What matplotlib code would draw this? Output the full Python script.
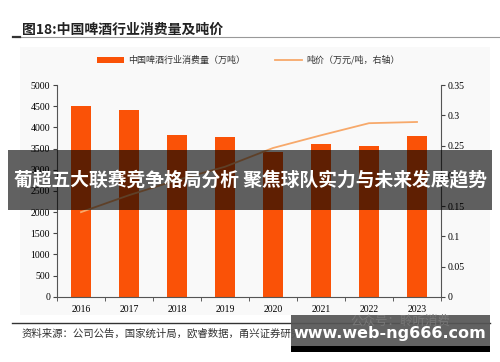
import matplotlib.pyplot as plt
from matplotlib.patches import Rectangle
from matplotlib.lines import Line2D

plt.rcParams['font.family'] = ['Noto Sans CJK SC', 'DejaVu Sans']

years = ['2016', '2017', '2018', '2019', '2020', '2021', '2022', '2023']
consumption = [4512, 4403, 3820, 3766, 3427, 3608, 3569, 3797]
price = [0.140, 0.168, 0.193, 0.215, 0.246, 0.267, 0.287, 0.289]

bar_color = '#FA5207'
line_color = '#F7A96B'
serif = ['Liberation Serif', 'DejaVu Serif']

fig = plt.figure(figsize=(5, 3.62), dpi=100)
fig.patch.set_facecolor('white')

# faint panel behind the chart
fig.add_artist(Rectangle((0.04, 0.13), 0.94, 0.74, transform=fig.transFigure,
                         facecolor='#F9F9F9', edgecolor='none', zorder=-5))

ax = fig.add_axes([0.114, 0.180, 0.768, 0.585])
ax.set_zorder(1)
ax.set_facecolor('none')
x = range(len(years))
ax.bar(x, consumption, width=0.42, color=bar_color, zorder=2)
ax.set_xlim(-0.47, 7.48)
ax.set_ylim(0, 5000)
ax.set_yticks(range(0, 5001, 500))
ax.set_xticks(list(x))
ax.set_xticklabels(years)
ax.set_xticks([i + 0.5 for i in range(-1, 8)], minor=True)
ax.tick_params(axis='x', which='major', length=0, pad=6)
ax.tick_params(axis='x', which='minor', length=3, direction='out', color='#444444')
ax.tick_params(axis='y', length=3, direction='out', color='#444444', pad=2)
for lab in ax.get_xticklabels() + ax.get_yticklabels():
    lab.set_family(serif)
    lab.set_fontsize(7)
for s in ['top', 'right']:
    ax.spines[s].set_visible(False)
ax.spines['left'].set_color('#555555')
ax.spines['bottom'].set_color('#555555')

ax2 = ax.twinx()
ax2.set_zorder(2)
ax2.set_facecolor('none')
ax2.plot(list(x), price, color=line_color, linewidth=1.3, zorder=3)
ax2.set_ylim(0, 0.35)
ax2.set_yticks([0, 0.05, 0.1, 0.15, 0.2, 0.25, 0.3, 0.35])
ax2.set_yticklabels(['0', '0.05', '0.1', '0.15', '0.2', '0.25', '0.3', '0.35'])
ax2.tick_params(axis='y', length=3, direction='out', color='#444444', pad=2)
for lab in ax2.get_yticklabels():
    lab.set_family(serif)
    lab.set_fontsize(7)
for s in ['top', 'left', 'bottom']:
    ax2.spines[s].set_visible(False)
ax2.spines['right'].set_color('#555555')

# title and rule
fig.text(0.044, 0.918, '图18:中国啤酒行业消费量及吨价', fontsize=10, fontweight='bold',
         color='#222222', va='center')
fig.add_artist(Line2D([0.03, 1.0], [0.897, 0.897], color='#999999', linewidth=0.8))
fig.add_artist(Line2D([0.026, 0.04], [0.897, 0.897], color='#333333', linewidth=1.6))

# legend
fig.add_artist(Rectangle((0.194, 0.826), 0.054, 0.016, transform=fig.transFigure,
                         facecolor=bar_color, edgecolor='none'))
fig.text(0.256, 0.834, '中国啤酒行业消费量（万吨）', fontsize=6.5, color='#333333', va='center')
fig.add_artist(Line2D([0.55, 0.604], [0.834, 0.834], color=line_color, linewidth=1.3))
fig.text(0.612, 0.834, '吨价（万元/吨，右轴）', fontsize=6.5, color='#333333', va='center')

# bottom rule and source
fig.add_artist(Line2D([0.024, 0.98], [0.108, 0.108], color='#333333', linewidth=1.0))
fig.text(0.044, 0.078, '资料来源：公司公告，国家统计局，欧睿数据，甬兴证券研究所',
         fontsize=7.5, style='italic', color='#333333', va='center')

# overlay banner
fig.add_artist(Rectangle((0.016, 0.42), 0.968, 0.166, transform=fig.transFigure,
                         facecolor='black', edgecolor='none', alpha=0.62, zorder=5))
fig.text(0.5, 0.503, '葡超五大联赛竞争格局分析 聚焦球队实力与未来发展趋势',
         fontsize=13.5, fontweight='bold', color='white', ha='center', va='center', zorder=6)

# watermark box
fig.add_artist(Rectangle((0.582, 0.028), 0.398, 0.102, transform=fig.transFigure,
                         facecolor='#555555', edgecolor='none', alpha=0.92, zorder=5))
fig.add_artist(Rectangle((0.582, 0.028), 0.398, 0.016, transform=fig.transFigure,
                         facecolor='black', edgecolor='none', zorder=6))
fig.text(0.80, 0.112, '公众号：聆听消费', fontsize=9, color='#777777',
         ha='center', va='center', zorder=6)
fig.text(0.78, 0.078, 'www.web-ng666.com', fontsize=11.5, fontweight='bold',
         color='white', ha='center', va='center', family=['DejaVu Sans'], zorder=7)

fig.savefig('out.png', dpi=100)
